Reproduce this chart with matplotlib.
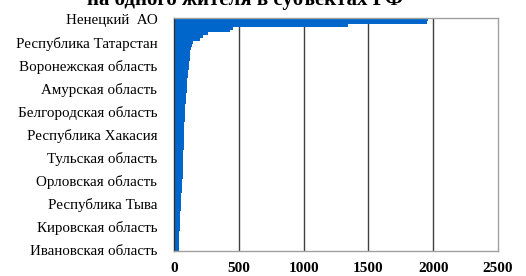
import numpy as np
import matplotlib
matplotlib.use("Agg")
import matplotlib.pyplot as plt

# values per region, sorted descending
values = [1960, 1955, 1345, 455, 435, 265, 225, 200, 150, 137,
          128, 125, 124, 122, 120, 118, 115, 112, 110, 108,
          106, 104, 102, 101, 99, 98, 96, 94, 91, 89,
          88, 86, 85, 84, 83, 82, 81, 79, 78, 77,
          76, 76, 75, 75, 74, 74, 73, 73, 72, 72,
          71, 70, 69, 68, 67, 66, 65, 64, 62, 61,
          59, 57, 56, 55, 53, 52, 51, 50, 48, 47,
          45, 44, 43, 43, 42, 42, 41, 41, 40, 40, 39]

# only every 8th region is labelled on the axis
tick_labels = ["Ненецкий  АО", "Республика Татарстан", "Воронежская область",
               "Амурская область", "Белгородская область", "Республика Хакасия",
               "Тульская область", "Орловская область", "Республика Тыва",
               "Кировская область", "Ивановская область"]
x_ticks = [0, 500, 1000, 1500, 2000, 2500]

title = "на одного жителя в субъектах РФ"

plt.rcParams['font.family'] = ['Liberation Serif', 'DejaVu Serif']

fig = plt.figure(figsize=(5.26, 2.76), dpi=100)
ax = fig.add_axes([174/526, 1 - 251/276, (498 - 174)/526, (251 - 18)/276])

pos = np.arange(len(values))
ax.barh(pos, values, height=1.0, color='#0066CC', linewidth=0, zorder=2)

ax.set_xlim(0, 2500)
ax.set_ylim(len(values) - 0.5, -0.5)

ax.set_yticks(pos[::8])
ax.set_yticklabels(tick_labels, fontsize=10.8)
ax.set_xticks(x_ticks)
ax.set_xticklabels([str(t) for t in x_ticks], fontsize=11, fontweight='bold')
ax.tick_params(axis='y', length=0, pad=12)
ax.tick_params(axis='x', length=0, pad=8)

for t in x_ticks[1:-1]:
    ax.axvline(t, color='#404040', linewidth=1, zorder=1)

for s in ax.spines.values():
    s.set_color('#A0A0A0')
    s.set_linewidth(1)
ax.spines['left'].set_color('#303030')

# the title sits mostly above the picture, as in the original crop
fig.text(245/526, 1 - 5/276, title, ha='center', va='baseline',
         fontsize=15, fontweight='bold')

fig.savefig("out.png", dpi=100)
